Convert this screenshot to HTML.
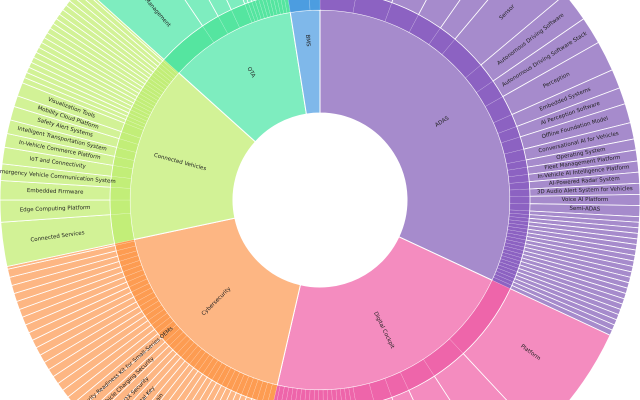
<!DOCTYPE html>
<html><head><meta charset="utf-8"><style>
html,body{margin:0;padding:0;background:#fff;width:640px;height:400px;overflow:hidden}
svg{display:block;overflow:hidden}
text{font-family:"DejaVu Sans","Liberation Sans",sans-serif;fill:#222}
</style></head><body>
<svg id="s" width="640" height="400" viewBox="0 0 640 400"></svg>
<script>
const cx=320,cy=200,R0=87,R1=190,R2=210,R3=320;
const S=document.getElementById('s');
function pt(a,r){const t=a*Math.PI/180;return [cx+r*Math.sin(t),cy-r*Math.cos(t)];}
function arc(a0,a1,ri,ro,fill,sw,sc){
 const [x0,y0]=pt(a0,ro),[x1,y1]=pt(a1,ro),[x2,y2]=pt(a1,ri),[x3,y3]=pt(a0,ri);
 const lg=(a1-a0)>180?1:0;
 const p=document.createElementNS('http://www.w3.org/2000/svg','path');
 p.setAttribute('d',`M${x0},${y0}A${ro},${ro} 0 ${lg} 1 ${x1},${y1}L${x2},${y2}A${ri},${ri} 0 ${lg} 0 ${x3},${y3}Z`);
 p.setAttribute('fill',fill);p.setAttribute('stroke',sc||'#fff');p.setAttribute('stroke-width',sw);
 S.appendChild(p);
}
function label(a,r,txt,size){
 const [x,y]=pt(a,r);let rot=((a%360)<180)?a-90:a+90;
 const t=document.createElementNS('http://www.w3.org/2000/svg','text');
 t.setAttribute('x',x);t.setAttribute('y',y);t.setAttribute('font-size',size);
 t.setAttribute('text-anchor','middle');t.setAttribute('dominant-baseline','central');
 t.setAttribute('transform',`rotate(${rot} ${x} ${y})`);t.textContent=txt;S.appendChild(t);
}
const cats=[
 {n:'ADAS',a0:0,a1:115,c:'#a68bcc',d:'#8c62c2',
  leaves:[[0,10],[10,20],[20,28],[28,35],[35,40],[40,50,'Sensor'],[50,55.5,'Autonomous Driving Software'],[55.5,60.5,'Autonomous Driving Software Stack'],[60.5,66,'Perception'],[66,69.5,'Embedded Systems'],[69.5,72.5,'AI Perception Software'],[72.5,76,'Offline Foundation Model'],[76,79,'Conversational AI for Vehicles'],[79,81,'Operating System'],[81,83,'Fleet Management Platform'],[83,85,'In-Vehicle AI Intelligence Platform'],[85,87,'AI-Powered Radar System'],[87,89,'3D Audio Alert System for Vehicles'],[89,91,'Voice AI Platform'],[91,93,'Semi-ADAS']],thin:[93,115,1]},
 {n:'Digital Cockpit',a0:115,a1:193,c:'#f48cbf',d:'#ee65aa',
  leaves:[[115,137,'Platform'],[137,147],[147,155],[155,160],[160,165],[165,170]],thin:[170,193,1.3]},
 {n:'Cybersecurity',a0:193,a1:258,c:'#fdb683',d:'#fd9c52',
  leaves:[],thin:[193,258,1.5]},
 {n:'Connected Vehicles',a0:258,a1:312,c:'#d2f296',d:'#c2ee78',
  leaves:[[258,266,'Connected Services'],[266,270,'Edge Computing Platform'],[270,273.5,'Embedded Firmware'],[273.5,276.5,'Emergency Vehicle Communication System'],[276.5,279.5,'IoT and Connectivity'],[279.5,282,'In-Vehicle Commerce Platform'],[282,284.5,'Intelligent Transportation System'],[284.5,287,'Safety Alert Systems'],[287,289,'Mobility Cloud Platform'],[289,291.5,'Visualization Tools']],thin:[291.5,312,1]},
 {n:'OTA',a0:312,a1:351,c:'#7eedbf',d:'#55e5a0',
  leaves:[[312,326,'Vehicle OTA Management'],[326,331],[331,335],[335,339]],thin:[339,351,1]},
 {n:'BMS',a0:351,a1:360,c:'#7fb8ea',d:'#4c9de0',leaves:[[351,357],[357,360]]}
];
const cyLabels=[[229,'Cybersecurity Readiness Kit for Small-Series OEMs'],[226.5,'Vehicle Charging Security'],[224,'V2X Security'],[221.5,'Digital Key'],[219,'Blockchain']];
cats.forEach(c=>{
 arc(c.a0,c.a1,R0,R1,c.c,1);
 let L=c.leaves.slice();
 if(c.thin){for(let a=c.thin[0];a<c.thin[1]-0.01;a+=c.thin[2])L.push([a,Math.min(a+c.thin[2],c.thin[1])]);}
 L.forEach(l=>{arc(l[0],l[1],R1,R2,c.d,0.3,'rgba(255,255,255,0.5)');arc(l[0],l[1],R2,R3,c.c,0.8);});
 L.forEach(l=>{if(l[2])label((l[0]+l[1])/2,l[2]==='Platform'?260:265,l[2],5.5);});
 label((c.a0+c.a1)/2,c.n==='BMS'?160:145,c.n,5.5);
});
cyLabels.forEach(l=>label(l[0],265,l[1],5.5));
</script>
</body></html>
